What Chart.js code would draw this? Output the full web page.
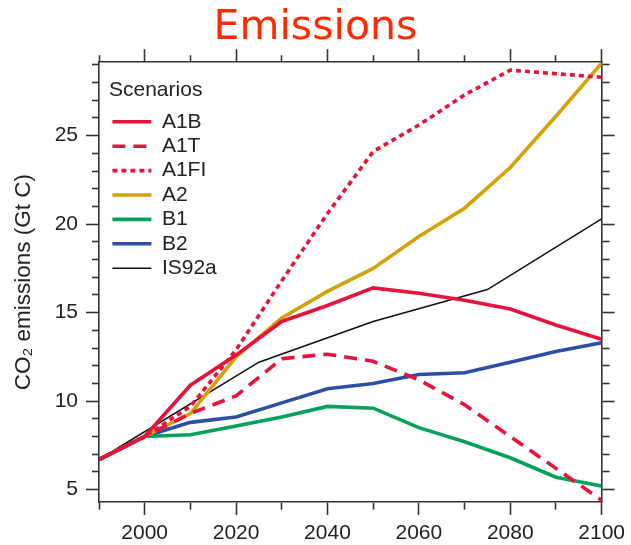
<!DOCTYPE html>
<html>
<head>
<meta charset="utf-8">
<script src="https://cdn.jsdelivr.net/npm/chart.js@4/dist/chart.umd.min.js"></script>
<style>
  html, body { margin: 0; padding: 0; background: #fff; }
  #wrap { width: 631px; height: 545px; position: relative; }
</style>
</head>
<body>
<div id="wrap"><canvas id="chart"></canvas></div>
<script>
// ==== Data ====
const years = [1990, 2000, 2010, 2020, 2030, 2040, 2050, 2060, 2070, 2080, 2090, 2100];
const a1b  = [6.7, 8.0, 10.9, 12.6, 14.5, 15.4, 16.4, 16.1, 15.7, 15.2, 14.3, 13.5];
const a1t  = [6.7, 8.0, 9.3, 10.3, 12.4, 12.65, 12.25, 11.2, 9.8, 8.0, 6.2, 4.4];
const a1fi = [6.7, 8.0, 9.7, 12.9, 16.8, 20.6, 24.1, 25.6, 27.3, 28.7, 28.5, 28.3];
const a2   = [6.7, 8.0, 9.3, 12.5, 14.7, 16.2, 17.5, 19.3, 20.9, 23.2, 26.1, 29.1];
const b1   = [6.7, 8.0, 8.1, 8.6, 9.1, 9.7, 9.6, 8.5, 7.7, 6.8, 5.7, 5.2];
const b2   = [6.7, 8.0, 8.8, 9.1, 9.9, 10.7, 11.0, 11.5, 11.6, 12.2, 12.8, 13.3];
const isYears = [1990, 2025, 2050, 2075, 2100];
const is92a   = [6.7, 12.2, 14.5, 16.3, 20.3];

const pts = (xs, ys) => xs.map((x, i) => ({ x, y: ys[i] }));

// ==== Style ====
const FONT = "'Liberation Sans', Arial, sans-serif";
const AXIS = "#333";
const TEXT = "#222";
const MAJOR = 13, MINOR = 7;

// minor ticks: dash the tick so only the part next to the frame shows
const tickDash = (isMajor, outerFirst) => ctx =>
  isMajor(ctx.tick && ctx.tick.value) ? [] : (outerFirst ? [MINOR, MAJOR - MINOR] : [MINOR, 100]);
const tickOffset = (isMajor, outerFirst) => ctx =>
  (!isMajor(ctx.tick && ctx.tick.value) && outerFirst) ? MINOR : 0;

const xMajor = v => v % 20 === 0;
const yMajor = v => v % 5 === 0;

const gridFor = (isMajor, outerFirst) => ({
  drawOnChartArea: false,
  drawTicks: true,
  tickLength: MAJOR,
  tickWidth: 1.6,
  tickColor: AXIS,
  tickBorderDash: tickDash(isMajor, outerFirst),
  tickBorderDashOffset: tickOffset(isMajor, outerFirst)
});
const border = { display: true, color: AXIS, width: 1.6 };

// ==== Legend placement inside the plot ====
const legendPlace = {
  id: "legendPlace",
  afterLayout(chart) {
    const lg = chart.legend, a = chart.chartArea;
    lg.left = a.left + 10;
    lg.top = a.top + 17.5;
    lg.right = lg.left + lg.width;
    lg.bottom = lg.top + lg.height;
  }
};

const line = (label, data, color, width, dash) => ({
  label, data, borderColor: color, backgroundColor: color,
  borderWidth: width, borderDash: dash || [], pointRadius: 0, tension: 0, fill: false
});

new Chart(document.getElementById("chart"), {
  type: "line",
  data: {
    datasets: [
      line("A1B", pts(years, a1b), "#e5133d", 3.6),
      line("A1T", pts(years, a1t), "#e5133d", 3.6, [13, 8]),
      line("A1FI", pts(years, a1fi), "#e5133d", 3.6, [5, 4]),
      line("A2", pts(years, a2), "#d4a106", 3.6),
      line("B1", pts(years, b1), "#06a15c", 3.6),
      line("B2", pts(years, b2), "#2d4fa3", 3.6),
      line("IS92a", pts(isYears, is92a), "#111", 1.6)
    ]
  },
  options: {
    responsive: true,
    maintainAspectRatio: false,
    animation: false,
    layout: { padding: 0 },
    scales: {
      x: {
        type: "linear", position: "bottom", min: 1990, max: 2100,
        border,
        grid: gridFor(xMajor, false),
        ticks: {
          stepSize: 10, includeBounds: false, autoSkip: false, maxRotation: 0, minRotation: 0,
          padding: 6, color: TEXT, font: { family: FONT, size: 21 },
          callback: v => (xMajor(v) ? String(v) : "")
        },
        afterFit: s => { s.height = 43; }
      },
      x2: {
        type: "linear", position: "top", min: 1990, max: 2100,
        border,
        grid: gridFor(xMajor, true),
        ticks: { stepSize: 10, includeBounds: false, autoSkip: false, display: false },
        afterFit: s => { s.height = 9; }
      },
      y: {
        type: "linear", position: "left", min: 4.3, max: 29.15,
        border,
        grid: gridFor(yMajor, true),
        title: {
          display: true, text: "CO\u2082 emissions (Gt C)", color: TEXT,
          font: { family: FONT, size: 22.5 }, padding: { top: 10, bottom: 0 }
        },
        ticks: {
          stepSize: 1, includeBounds: false, autoSkip: false,
          padding: 8, color: TEXT, font: { family: FONT, size: 21 },
          callback: v => (yMajor(v) ? String(v) : "")
        },
        afterFit: s => { s.width = 99; }
      },
      y2: {
        type: "linear", position: "right", min: 4.3, max: 29.15,
        border,
        grid: gridFor(yMajor, false),
        ticks: { stepSize: 1, includeBounds: false, autoSkip: false, display: false },
        afterFit: s => { s.width = 29; }
      }
    },
    plugins: {
      title: {
        display: true, text: "Emissions", color: "#ff2a00",
        font: { family: "'DejaVu Sans', sans-serif", size: 41, weight: "normal" },
        padding: { top: 4, bottom: 0 }
      },
      legend: {
        position: "chartArea", align: "start",
        title: {
          display: true, text: "Scenarios", position: "start", color: TEXT,
          font: { family: FONT, size: 21 }, padding: { top: 0, bottom: 3 }
        },
        labels: {
          usePointStyle: true, pointStyle: "line", pointStyleWidth: 39,
          color: TEXT, padding: 3.4, font: { family: FONT, size: 21 },
          generateLabels: chart =>
            Chart.defaults.plugins.legend.labels.generateLabels(chart).map(item => {
              const ds = chart.data.datasets[item.datasetIndex];
              return Object.assign(item, {
                lineDash: ds.borderDash, lineWidth: ds.borderWidth,
                strokeStyle: ds.borderColor, pointStyle: "line"
              });
            })
        }
      },
      tooltip: { enabled: false }
    }
  },
  plugins: [legendPlace]
});
</script>
</body>
</html>
